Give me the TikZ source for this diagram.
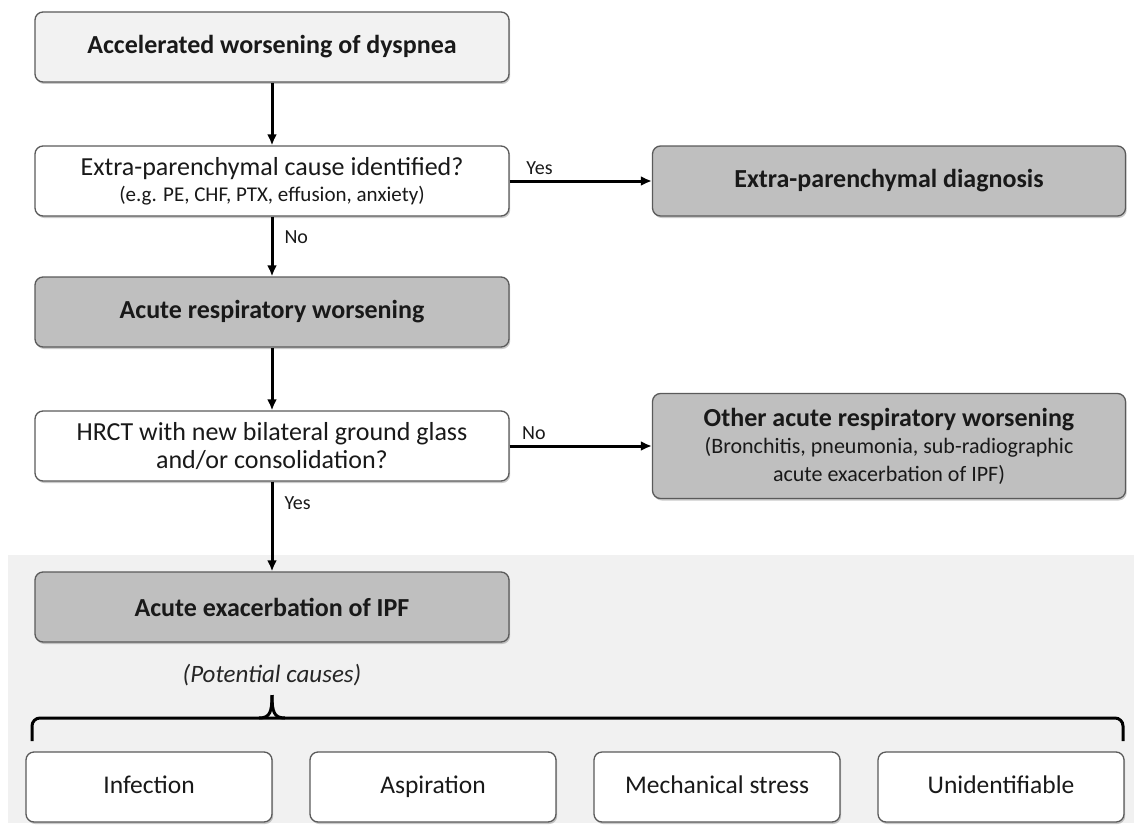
\documentclass[tikz,border=0pt]{standalone}
\usepackage{fontspec}
\setmainfont{Carlito}
\usepackage{tikz}
\usetikzlibrary{arrows,arrows.meta,shadows}
\usepackage{xcolor}
\definecolor{boxline}{HTML}{5A5A5A}
\definecolor{lightfill}{HTML}{F2F2F2}
\definecolor{darkfill}{HTML}{BFBFBF}
\definecolor{bandgray}{HTML}{F1F1F1}
\tikzset{>={Latex[length=11pt,width=10pt]}}

\begin{document}
\begin{tikzpicture}[x=1pt,y=-1pt]
                        % box = flow step, lbl = yes/no tag on an arrow
                        \tikzstyle{box}=[rectangle, rounded corners=8pt, draw=boxline, line width=1.3pt,
                                minimum width=474pt, minimum height=70pt, align=center, text=black!90,
                                drop shadow={shadow xshift=1.2pt, shadow yshift=-2pt, opacity=0.35, fill=black!60}]
                        \tikzstyle{lightbox}=[box, fill=lightfill, font=\fontsize{26}{28}\selectfont\bfseries]
                        \tikzstyle{whitebox}=[box, fill=white, font=\fontsize{26}{28}\selectfont]
                        \tikzstyle{graybox}=[box, fill=darkfill, font=\fontsize{26}{28}\selectfont\bfseries]
                        \tikzstyle{causebox}=[box, fill=white, minimum width=246pt, text height=18pt, text depth=5pt,
                                font=\fontsize{25.5}{28}\selectfont]
                        \tikzstyle{lbl}=[inner sep=2pt, font=\fontsize{20}{22}\selectfont, text=black!90]
                        \tikzstyle{flow}=[->, black, line width=3pt]
                        \useasboundingbox (0,0) rectangle (1134,824);
                        \fill[bandgray] (8,555) rectangle (1134,823);

                        \node[lightbox] (dysp) at (272,47) {Accelerated worsening of dyspnea};
                        \node[whitebox] (extra) [below of = dysp, node distance=134pt]
                                {Extra-parenchymal cause identified?\\[-2pt]
                                 {\fontsize{21}{24}\selectfont (e.g. PE, CHF, PTX, effusion, anxiety)}};
                        \node[graybox, minimum width=473pt] (diag) [right of = extra, node distance=617pt]
                                {Extra-parenchymal diagnosis};
                        \node[graybox] (resp) [below of = extra, node distance=131pt] {Acute respiratory worsening};
                        \node[whitebox] (hrct) [below of = resp, node distance=134pt]
                                {HRCT with new bilateral ground glass\\and/or consolidation?};
                        \node[graybox, minimum width=473pt, minimum height=105pt] (other) [right of = hrct, node distance=617pt]
                                {Other acute respiratory worsening\\[-1pt]
                                 {\fontsize{22}{27}\selectfont\mdseries (Bronchitis, pneumonia, sub-radiographic}\\
                                 {\fontsize{22}{27}\selectfont\mdseries acute exacerbation of IPF)}};
                        \node[graybox] (aeipf) [below of = hrct, node distance=161pt] {Acute exacerbation of IPF};

                        \draw[flow] (dysp) -- (extra);
                        \draw[flow] (extra.east) -- node[lbl, above=3pt, pos=0.21] {Yes} (diag.west);
                        \draw[flow] (extra) -- node[lbl, right=9pt, pos=0.34] {No} (resp);
                        \draw[flow] (resp) -- (hrct);
                        \draw[flow] (hrct.east) -- node[lbl, above=3pt, pos=0.17] {No} (other.west);
                        \draw[flow] (hrct) -- node[lbl, right=9pt, pos=0.24] {Yes} (aeipf);

                        % potential causes
                        \node[inner sep=0pt, font=\fontsize{25}{28}\selectfont\itshape, text=black!85] (causes) at (272,675) {(Potential causes)};
                        \coordinate (tip) at (272,695);
                        \draw[line width=3pt, rounded corners=8pt] (32,741) -- (32,718) -- (1123,718) -- (1123,741);
                        \draw[line width=3pt] (259,718) .. controls (270,718) and (272,712) .. (tip);
                        \draw[line width=3pt] (285,718) .. controls (274,718) and (272,712) .. (tip);

                        \node[causebox] (inf) at (149,787) {Infection};
                        \node[causebox] (asp) [right of = inf, node distance=284pt] {Aspiration};
                        \node[causebox] (mech) [right of = asp, node distance=284pt] {Mechanical stress};
                        \node[causebox] (unid) [right of = mech, node distance=284pt] {Unidentifiable};
                \end{tikzpicture}
\end{document}
